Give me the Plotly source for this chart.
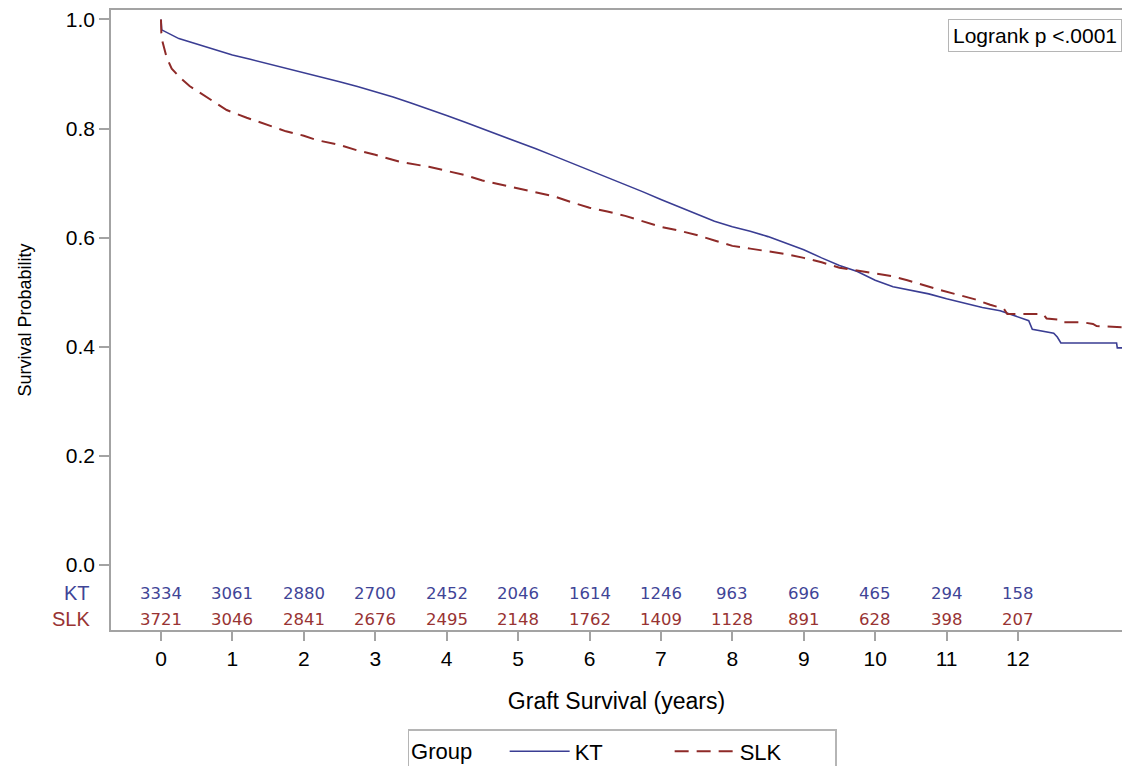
import plotly.graph_objects as go

# ---- data ----
kt_time = [0, 0.01, 0.25, 0.5, 0.75, 1.0, 1.25, 1.5, 1.75, 2.0, 2.25, 2.5, 2.75, 3.0, 3.25, 3.5, 3.75,
           4.0, 4.25, 4.5, 4.75, 5.0, 5.25, 5.5, 5.75, 6.0, 6.25, 6.5, 6.75, 7.0, 7.25, 7.5, 7.75,
           8.0, 8.25, 8.5, 8.75, 9.0, 9.25, 9.5, 9.75, 10.0, 10.25, 10.5, 10.75, 11.0, 11.25, 11.5,
           11.75, 12.0, 12.15, 12.2, 12.5, 12.55, 12.6, 13.38, 13.39, 13.46]
kt_surv = [1.0, 0.981, 0.965, 0.955, 0.945, 0.935, 0.927, 0.919, 0.911, 0.903, 0.895, 0.886, 0.877,
           0.868, 0.858, 0.847, 0.836, 0.824, 0.812, 0.800, 0.788, 0.775, 0.763, 0.750, 0.737, 0.724,
           0.711, 0.698, 0.684, 0.670, 0.657, 0.643, 0.630, 0.620, 0.612, 0.602, 0.590, 0.578, 0.563,
           0.549, 0.538, 0.522, 0.510, 0.504, 0.497, 0.488, 0.480, 0.472, 0.466, 0.455, 0.448, 0.432,
           0.425, 0.418, 0.407, 0.407, 0.398, 0.398]

slk_time = [0, 0.005, 0.02, 0.08, 0.15, 0.27, 0.4, 0.55, 0.75, 0.92, 1.2, 1.48, 1.75, 2.0, 2.18, 2.5,
            2.75, 3.0, 3.35, 3.75, 4.0, 4.25, 4.5, 4.75, 5.0, 5.25, 5.5, 5.75, 6.0, 6.25, 6.5, 6.75,
            7.0, 7.25, 7.5, 7.75, 8.0, 8.25, 8.5, 8.75, 9.0, 9.25, 9.5, 9.75, 10.0, 10.25, 10.45,
            10.7, 10.91, 11.2, 11.4, 11.61, 11.8, 11.85, 12.35, 12.4, 12.55, 12.6, 12.9, 13.05, 13.1,
            13.46]
slk_surv = [1.0, 0.975, 0.96, 0.93, 0.91, 0.893, 0.878, 0.865, 0.848, 0.834, 0.82, 0.807, 0.795,
            0.787, 0.779, 0.77, 0.76, 0.752, 0.739, 0.73, 0.722, 0.715, 0.705, 0.698, 0.69, 0.684,
            0.676, 0.665, 0.655, 0.648, 0.64, 0.63, 0.62, 0.613, 0.605, 0.595, 0.585, 0.58, 0.575,
            0.57, 0.563, 0.555, 0.545, 0.54, 0.535, 0.529, 0.522, 0.512, 0.504, 0.494, 0.487, 0.477,
            0.47, 0.46, 0.46, 0.452, 0.45, 0.445, 0.445, 0.442, 0.438, 0.436]

risk_years = list(range(13))
kt_risk = [3334, 3061, 2880, 2700, 2452, 2046, 1614, 1246, 963, 696, 465, 294, 158]
slk_risk = [3721, 3046, 2841, 2676, 2495, 2148, 1762, 1409, 1128, 891, 628, 398, 207]

x_ticks = list(range(13))
y_ticks = [0.0, 0.2, 0.4, 0.6, 0.8, 1.0]
y_ticktext = ["0.0", "0.2", "0.4", "0.6", "0.8", "1.0"]

KT_COLOR = "#3a3d93"
SLK_COLOR = "#8e2a28"
KT_TEXT = "#3f4597"
SLK_TEXT = "#983333"
AXIS_COLOR = "#a3a3a3"
FONT = "Liberation Sans, Arial, sans-serif"

fig = go.Figure()
fig.add_trace(go.Scatter(x=kt_time, y=kt_surv, mode="lines", name="KT", line_shape="linear",
                         line=dict(color=KT_COLOR, width=1.6)))
fig.add_trace(go.Scatter(x=slk_time, y=slk_surv, mode="lines", name="SLK", line_shape="linear",
                         line=dict(color=SLK_COLOR, width=2, dash="14px,8px")))

annotations = []
for yr, n in zip(risk_years, kt_risk):
    annotations.append(dict(x=yr, y=-0.0513, xref="x", yref="y", text=str(n), showarrow=False,
                            font=dict(family="DejaVu Sans", size=16.5, color=KT_TEXT)))
for yr, n in zip(risk_years, slk_risk):
    annotations.append(dict(x=yr, y=-0.099, xref="x", yref="y", text=str(n), showarrow=False,
                            font=dict(family="DejaVu Sans", size=16.5, color=SLK_TEXT)))
annotations.append(dict(x=-0.0188, y=-0.0513, xref="paper", yref="y", text="KT", showarrow=False,
                        xanchor="right", font=dict(family=FONT, size=20, color=KT_TEXT)))
annotations.append(dict(x=-0.0188, y=-0.099, xref="paper", yref="y", text="SLK", showarrow=False,
                        xanchor="right", font=dict(family=FONT, size=20, color=SLK_TEXT)))
annotations.append(dict(x=1.0, y=0.9855, xref="paper", yref="paper", text="Logrank p <.0001",
                        showarrow=False, xanchor="right", yanchor="top",
                        font=dict(family=FONT, size=21, color="black"),
                        bordercolor="#b5b5b5", borderwidth=1, borderpad=4, bgcolor="white"))

fig.update_layout(
    width=1122, height=766,
    margin=dict(l=111, r=0, t=10, b=136, autoexpand=False),
    paper_bgcolor="white", plot_bgcolor="white",
    font=dict(family=FONT, color="black"),
    xaxis=dict(range=[-0.700, 13.456], tickvals=x_ticks, showgrid=False, zeroline=False,
               showline=True, linecolor=AXIS_COLOR, linewidth=1.5, mirror=True,
               ticks="outside", ticklen=9, tickcolor=AXIS_COLOR, tickwidth=1.5,
               tickfont=dict(size=21, family=FONT, color="black"),
               title=dict(text="Graft Survival (years)", font=dict(size=23, family=FONT), standoff=24)),
    yaxis=dict(range=[-0.1191, 1.0174], tickvals=y_ticks, ticktext=y_ticktext, showgrid=False,
               zeroline=False, showline=True, linecolor=AXIS_COLOR, linewidth=1.5,
               ticks="outside", ticklen=10, tickcolor=AXIS_COLOR, tickwidth=1.5,
               tickfont=dict(size=21, family=FONT, color="black"),
               title=dict(text="Survival Probability", font=dict(size=18, family=FONT), standoff=30)),
    legend=dict(orientation="h", x=0.5055, xanchor="center", y=-0.1597, yanchor="top",
                title=dict(text="Group    ", font=dict(size=22, family=FONT), side="left"),
                font=dict(size=22, family=FONT), bordercolor="#b5b5b5", borderwidth=1.5,
                bgcolor="white", entrywidth=90, itemwidth=60),
    annotations=annotations,
    showlegend=True,
)

fig.write_html("out.html", config={"displayModeBar": False},
               post_script="document.body.style.margin='0px';")
